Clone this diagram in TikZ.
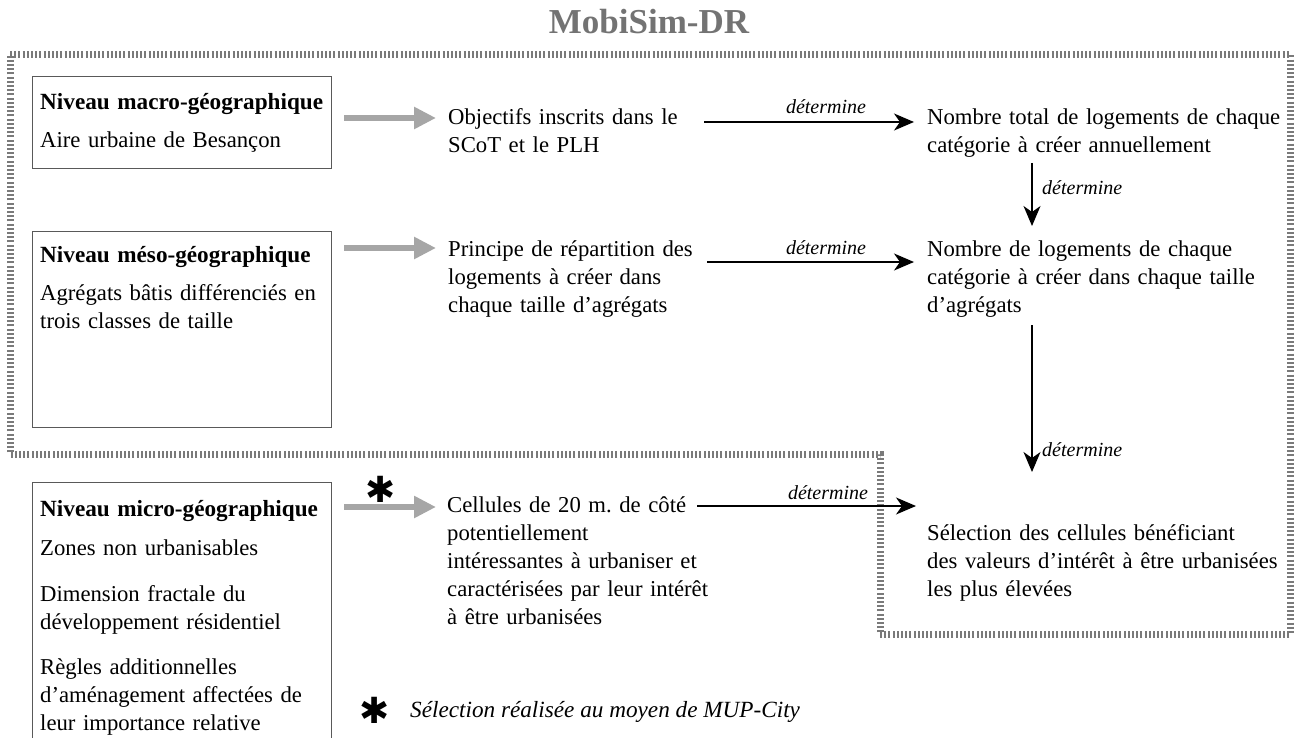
\documentclass[tikz,border=0pt]{standalone}
\usepackage{fontspec}
\setmainfont{Liberation Serif}
\newfontfamily\symfont{DejaVu Sans}
\usetikzlibrary{arrows.meta}
\newcommand{\lvltitle}[1]{{\fontsize{23.2}{28}\selectfont\bfseries #1}}
\begin{document}
\begin{tikzpicture}[x=1pt,y=-1pt,
  txt/.style={font=\fontsize{22.7}{28}\selectfont, align=left, inner sep=0pt, anchor=base west, text width=#1},
  lab/.style={font=\itshape\fontsize{20}{24}\selectfont, inner sep=0pt},
  levelbox/.style={draw=black!65, line width=1.3pt, anchor=north west, inner sep=0pt},
  border/.style={draw=black!52, line width=7pt, dash pattern=on 2pt off 2.2pt},
  garrow/.style={draw=black!35, line width=6pt, -{Triangle[length=22pt,width=21pt]}},
  blk/.style={line width=1.4pt, -{Stealth[length=20pt,width=17pt,inset=6pt]}},
  star/.style={font=\symfont\fontsize{36}{36}\selectfont, inner sep=0pt}
]
\useasboundingbox (0,0) rectangle (1297,738);

% title
\node[font=\bfseries\fontsize{35}{40}\selectfont, text=black!55, anchor=base, inner sep=0pt] (title) at (649,33.5) {MobiSim-DR};

% border
\draw[border] (10,54.5) -- (1290,54.5) -- (1290,634.5) -- (880,634.5) -- (880,454) -- (10,454) -- cycle;

% level boxes
\node[levelbox, minimum width=299pt, minimum height=92pt] (macro) at (32,76) {};
\node[levelbox, minimum width=299pt, minimum height=196pt] (meso) at (32,231) {};
\node[levelbox, minimum width=299pt, minimum height=280pt] (micro) at (32,482) {};

\node[txt=290pt] (macroT) at (40,110) {\lvltitle{Niveau macro-géographique}\\[10pt]Aire urbaine de Besançon};
\node[txt=290pt] (mesoT) at (40,262) {\lvltitle{Niveau méso-géographique}\\[10pt]Agrégats bâtis différenciés en\\trois classes de taille};
\node[txt=290pt] (microT) at (40,516) {\lvltitle{Niveau micro-géographique}\\[11pt]Zones non urbanisables\\[18pt]Dimension fractale du\\développement résidentiel\\[17pt]Règles additionnelles\\d’aménagement affectées de\\leur importance relative};

% middle column
\node[txt=300pt] (obj) at (448,125) {Objectifs inscrits dans le\\SCoT et le PLH};
\node[txt=300pt] (princ) at (448,256) {Principe de répartition des\\logements à créer dans\\chaque taille d’agrégats};
\node[txt=300pt] (cell) at (447,512) {Cellules de 20 m.\ de côté\\potentiellement\\intéressantes à urbaniser et\\caractérisées par leur intérêt\\à être urbanisées};

% right column
\node[txt=380pt] (nbt) at (927,125) {Nombre total de logements de chaque\\catégorie à créer annuellement};
\node[txt=380pt] (nbc) at (927,256) {Nombre de logements de chaque\\catégorie à créer dans chaque taille\\d’agrégats};
\node[txt=380pt] (sel) at (927,540) {Sélection des cellules bénéficiant\\des valeurs d’intérêt à être urbanisées\\les plus élevées};

% connector end points
\coordinate (g1s) at (344,118);  \coordinate (g1e) at (436,118);
\coordinate (g2s) at (344,248);  \coordinate (g2e) at (436,248);
\coordinate (g3s) at (344,507);  \coordinate (g3e) at (436,507);
\coordinate (h1s) at (704,122);  \coordinate (h1e) at (914,122);
\coordinate (h2s) at (707,262);  \coordinate (h2e) at (914,262);
\coordinate (h3s) at (697,506);  \coordinate (h3e) at (916,506);
\coordinate (v1s) at (1032,163); \coordinate (v1e) at (1032,226);
\coordinate (v2s) at (1032,325); \coordinate (v2e) at (1032,472);

% gray arrows
\draw[garrow] (g1s) -- (g1e);
\draw[garrow] (g2s) -- (g2e);
\draw[garrow] (g3s) -- (g3e);
\node[star] (star1) at (381,489) {✱};

% black arrows
\draw[blk] (h1s) -- (h1e);
\node[lab, anchor=base] (l1) at (826,114) {détermine};
\draw[blk] (h2s) -- (h2e);
\node[lab, anchor=base] (l2) at (826,254) {détermine};
\draw[blk] (h3s) -- (h3e);
\node[lab, anchor=base] (l3) at (828,499) {détermine};
\draw[blk] (v1s) -- (v1e);
\node[lab, anchor=base west] (l4) at (1042,194) {détermine};
\draw[blk] (v2s) -- (v2e);
\node[lab, anchor=base west] (l5) at (1042,456) {détermine};

% legend
\node[star] (star2) at (375,710) {✱};
\node[font=\itshape\fontsize{23.2}{28}\selectfont, inner sep=0pt, anchor=base west] (leg) at (410,717) {Sélection réalisée au moyen de MUP-City};
\end{tikzpicture}
\end{document}
